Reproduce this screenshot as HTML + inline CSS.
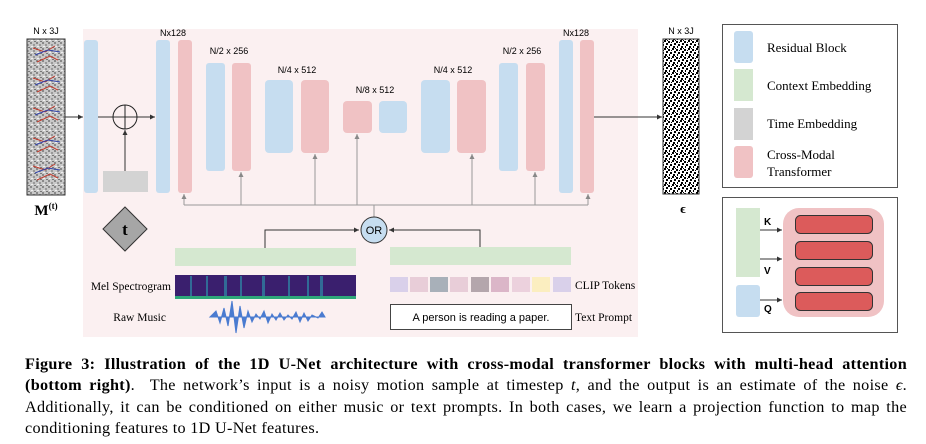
<!DOCTYPE html>
<html><head><meta charset="utf-8"><style>
html,body{margin:0;padding:0;background:#fff;width:926px;height:444px;overflow:hidden}
svg{position:absolute;left:0;top:0}
.cap{position:absolute;left:25px;top:354px;width:882px;font-family:"Liberation Serif",serif;font-size:16.2px;letter-spacing:0.3px;line-height:21.4px;color:#000}
.cap div{text-align:justify;text-align-last:justify;white-space:nowrap;height:21.4px}
.cap div.l{text-align-last:left}
</style></head><body>
<svg width="926" height="350" viewBox="0 0 926 350" xmlns="http://www.w3.org/2000/svg" font-family="Liberation Sans, sans-serif">
<defs>
<pattern id="nz" width="8" height="8" patternUnits="userSpaceOnUse">
<rect width="8" height="8" fill="#fff"/>
<rect x="0" y="0" width="2" height="2" fill="#000"/><rect x="4" y="1" width="2" height="2" fill="#000"/>
<rect x="2" y="3" width="2" height="2" fill="#000"/><rect x="6" y="4" width="2" height="2" fill="#000"/>
<rect x="1" y="6" width="2" height="2" fill="#000"/><rect x="5" y="6" width="1" height="2" fill="#000"/>
<rect x="3" y="0" width="1" height="1" fill="#000"/><rect x="7" y="2" width="1" height="1" fill="#000"/>
</pattern>
<pattern id="gz" width="6" height="6" patternUnits="userSpaceOnUse">
<rect width="6" height="6" fill="#c8c8c8"/>
<rect x="0" y="0" width="2" height="2" fill="#888"/><rect x="3" y="2" width="2" height="2" fill="#999"/>
<rect x="1" y="4" width="2" height="1" fill="#eee"/><rect x="4" y="5" width="2" height="1" fill="#777"/>
</pattern>
<marker id="ar" markerWidth="6" markerHeight="6" refX="5" refY="3" orient="auto"><path d="M0,0.5 L5,3 L0,5.5z" fill="#333"/></marker>
<marker id="ag" markerWidth="6" markerHeight="6" refX="5" refY="3" orient="auto"><path d="M0,0.5 L5,3 L0,5.5z" fill="#888"/></marker>
</defs>
<rect x="83" y="29" width="555" height="308" fill="#fbf0f1"/>
<text x="46" y="34" font-size="9" text-anchor="middle">N x 3J</text>
<rect x="27" y="39" width="38" height="156" fill="url(#gz)" stroke="#333" stroke-width="1"/>
<g stroke-width="1" fill="none">
<path d="M33,48 L45,52 L55,46 M37,62 L50,56 L58,60" stroke="#c0392b"/><path d="M35,55 L48,50 L60,52" stroke="#3344aa"/>
<path d="M33,78 L45,82 L55,76 M37,92 L50,86 L58,90" stroke="#c0392b"/><path d="M35,85 L48,80 L60,82" stroke="#3344aa"/>
<path d="M33,108 L45,112 L55,106 M37,122 L50,116 L58,120" stroke="#c0392b"/><path d="M35,115 L48,110 L60,112" stroke="#3344aa"/>
<path d="M33,138 L45,142 L55,136 M37,152 L50,146 L58,150" stroke="#c0392b"/><path d="M35,145 L48,140 L60,142" stroke="#3344aa"/>
<path d="M33,166 L45,170 L55,164 M37,180 L50,174 L58,178" stroke="#c0392b"/><path d="M35,173 L48,168 L60,170" stroke="#3344aa"/>
</g>
<text x="46" y="215" font-size="15" font-weight="bold" font-family="Liberation Serif, serif" text-anchor="middle">M<tspan font-size="9" dy="-6">(t)</tspan></text>
<line x1="65" y1="117" x2="83" y2="117" stroke="#333" marker-end="url(#ar)"/>
<g fill="#c6ddf0"><rect x="84" y="40" width="14" height="153" rx="3"/><rect x="156" y="40" width="14" height="153" rx="3"/>
<rect x="206" y="63" width="19" height="108" rx="3"/><rect x="265" y="80" width="28" height="73" rx="4"/>
<rect x="379" y="101" width="28" height="32" rx="4"/><rect x="421" y="80" width="29" height="73" rx="4"/>
<rect x="499" y="63" width="19" height="108" rx="3"/><rect x="559" y="40" width="14" height="153" rx="3"/></g>
<g fill="#f0c2c4"><rect x="178" y="40" width="14" height="153" rx="3"/><rect x="232" y="63" width="19" height="108" rx="3"/>
<rect x="301" y="80" width="28" height="73" rx="4"/><rect x="343" y="101" width="29" height="32" rx="4"/>
<rect x="457" y="80" width="29" height="73" rx="4"/><rect x="526" y="63" width="19" height="108" rx="3"/>
<rect x="580" y="40" width="14" height="153" rx="3"/></g>
<g font-size="9" text-anchor="middle"><text x="173" y="36">Nx128</text><text x="229" y="54">N/2 x 256</text><text x="297" y="73">N/4 x 512</text>
<text x="375" y="93">N/8 x 512</text><text x="453" y="73">N/4 x 512</text><text x="522" y="54">N/2 x 256</text><text x="576" y="36">Nx128</text></g>
<line x1="98" y1="117" x2="155" y2="117" stroke="#333" marker-end="url(#ar)"/>
<circle cx="125" cy="117" r="12" fill="none" stroke="#222"/>
<line x1="125" y1="105" x2="125" y2="129" stroke="#222"/>
<rect x="103" y="171" width="45" height="21" fill="#d3d3d3"/>
<line x1="125" y1="171" x2="125" y2="130" stroke="#333" marker-end="url(#ar)"/>
<polygon points="125,207 147,229 125,251 103,229" fill="#a6a6a6" stroke="#333"/>
<text x="125" y="235" font-size="17" font-weight="bold" font-family="Liberation Serif, serif" text-anchor="middle">t</text>
<line x1="594" y1="117" x2="662" y2="117" stroke="#333" marker-end="url(#ar)"/>
<text x="681" y="34" font-size="9" text-anchor="middle">N x 3J</text>
<rect x="663" y="39" width="36" height="155" fill="url(#nz)" stroke="#333"/>
<text x="683" y="213" font-size="13" font-weight="bold" font-family="Liberation Serif, serif" text-anchor="middle">ϵ</text>
<g stroke="#999" fill="none"><path d="M184,205 H588"/>
<line x1="184" y1="205" x2="184" y2="194" marker-end="url(#ag)"/><line x1="241" y1="205" x2="241" y2="172" marker-end="url(#ag)"/>
<line x1="315" y1="205" x2="315" y2="154" marker-end="url(#ag)"/><line x1="357" y1="205" x2="357" y2="134" marker-end="url(#ag)"/>
<line x1="472" y1="205" x2="472" y2="154" marker-end="url(#ag)"/><line x1="535" y1="205" x2="535" y2="172" marker-end="url(#ag)"/>
<line x1="588" y1="205" x2="588" y2="194" marker-end="url(#ag)"/><line x1="374" y1="205" x2="374" y2="217"/></g>
<circle cx="374" cy="230" r="13" fill="#c6ddf0" stroke="#333"/>
<text x="374" y="234" font-size="11" text-anchor="middle">OR</text>
<path d="M265,248 V230 H359" fill="none" stroke="#333" marker-end="url(#ar)"/>
<path d="M480,247 V230 H389" fill="none" stroke="#333" marker-end="url(#ar)"/>
<rect x="175" y="248" width="181" height="18" fill="#d5e8d0"/>
<rect x="390" y="247" width="181" height="18" fill="#d5e8d0"/>
<rect x="175" y="275" width="181" height="24" fill="#3a1f6e"/>
<rect x="175" y="296" width="181" height="3" fill="#2ea67a"/>
<g fill="#2f7ea0" opacity="0.8"><rect x="190" y="276" width="2" height="20"/><rect x="206" y="276" width="2" height="20"/><rect x="224" y="276" width="3" height="20"/><rect x="240" y="276" width="2" height="20"/><rect x="262" y="276" width="3" height="20"/><rect x="288" y="276" width="2" height="20"/><rect x="307" y="276" width="2" height="20"/><rect x="320" y="276" width="3" height="20"/></g>
<text x="171" y="290" font-size="11.5" font-family="Liberation Serif, serif" text-anchor="end">Mel Spectrogram</text>
<text x="166" y="321" font-size="11.5" font-family="Liberation Serif, serif" text-anchor="end">Raw Music</text>
<path d="M210,317 L216,311 L220,323 L224,308 L228,326 L232,301 L236,333 L240,306 L244,328 L248,311 L252,322 L256,314 L260,319 L264,311 L268,323 L272,314 L276,320 L280,313 L284,320 L288,315 L292,319 L296,312 L300,322 L304,313 L308,321 L312,315 L318,318 L322,312 L325,317 Z" fill="#4a7bd0" stroke="#4a7bd0"/>
<g><rect x="390" y="277" width="18" height="15" fill="#d9d0ea"/><rect x="410" y="277" width="18" height="15" fill="#e8cdd8"/><rect x="430" y="277" width="18" height="15" fill="#a8b0b9"/><rect x="450" y="277" width="18" height="15" fill="#e8cdd8"/><rect x="471" y="277" width="18" height="15" fill="#b4a6ac"/><rect x="491" y="277" width="18" height="15" fill="#dbb6c8"/><rect x="512" y="277" width="18" height="15" fill="#ecd1dd"/><rect x="532" y="277" width="18" height="15" fill="#fbeec0"/><rect x="553" y="277" width="18" height="15" fill="#d9d0ea"/></g>
<text x="575" y="289" font-size="11.5" font-family="Liberation Serif, serif">CLIP Tokens</text>
<rect x="390.5" y="304.5" width="181" height="25" fill="#fff" stroke="#444"/>
<text x="481" y="321" font-size="11" text-anchor="middle">A person is reading a paper.</text>
<text x="575" y="321" font-size="11.5" font-family="Liberation Serif, serif">Text Prompt</text>
<rect x="722.5" y="24.5" width="175" height="163" fill="#fff" stroke="#555"/>
<rect x="734" y="31" width="19" height="32" rx="3" fill="#c6ddf0"/><rect x="734" y="69" width="19" height="32" fill="#d5e8d0"/>
<rect x="734" y="108" width="19" height="32" fill="#d3d3d3"/><rect x="734" y="146" width="19" height="32" rx="3" fill="#f0c2c4"/>
<g font-size="13" font-family="Liberation Serif, serif"><text x="767" y="52">Residual Block</text><text x="767" y="90">Context Embedding</text><text x="767" y="128">Time Embedding</text><text x="767" y="159">Cross-Modal</text><text x="767" y="176">Transformer</text></g>
<rect x="722.5" y="197.5" width="175" height="135" fill="#fff" stroke="#555"/>
<rect x="736" y="208" width="24" height="69" fill="#d5e8d0"/><rect x="736" y="285" width="24" height="32" rx="3" fill="#c6ddf0"/>
<rect x="783" y="208" width="101" height="109" rx="16" fill="#f0c2c4"/>
<g fill="#dc5b5b" stroke="#333"><rect x="795.5" y="215.5" width="77" height="18" rx="5"/><rect x="795.5" y="241.5" width="77" height="18" rx="5"/><rect x="795.5" y="267.5" width="77" height="18" rx="5"/><rect x="795.5" y="292.5" width="77" height="18" rx="5"/></g>
<g stroke="#333"><line x1="760" y1="230" x2="782" y2="230" marker-end="url(#ar)"/><line x1="760" y1="259" x2="782" y2="259" marker-end="url(#ar)"/><line x1="760" y1="300" x2="782" y2="300" marker-end="url(#ar)"/></g>
<g font-size="10" font-weight="bold"><text x="764" y="225">K</text><text x="764" y="274">V</text><text x="764" y="312">Q</text></g>
</svg>
<div class="cap">
<div><b>Figure 3: Illustration of the 1D U-Net architecture with cross-modal transformer blocks with multi-head attention</b></div>
<div><b>(bottom right)</b>. &nbsp;The network’s input is a noisy motion sample at timestep <i>t</i>, and the output is an estimate of the noise <i>ϵ</i>.</div>
<div>Additionally, it can be conditioned on either music or text prompts. In both cases, we learn a projection function to map the</div>
<div class="l">conditioning features to 1D U-Net features.</div>
</div>
</body></html>
